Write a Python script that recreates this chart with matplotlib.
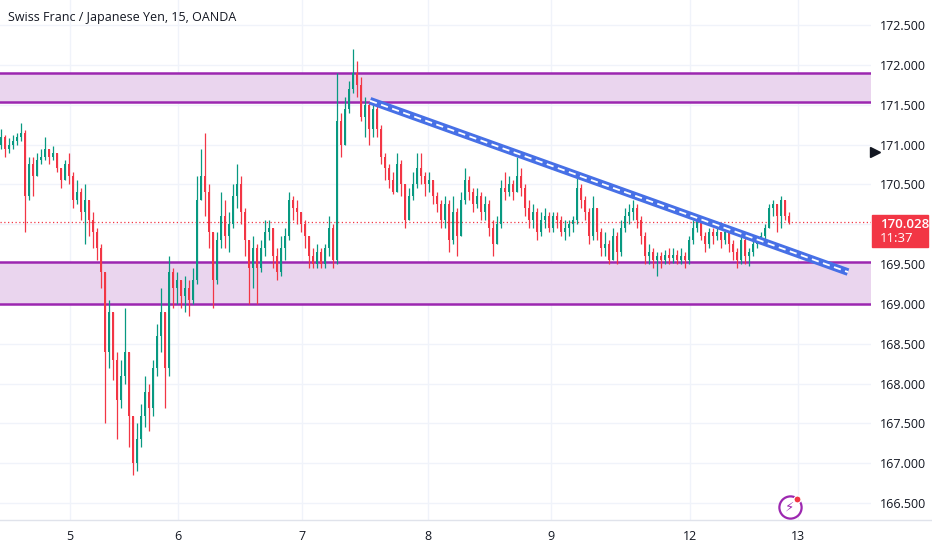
import numpy as np
import matplotlib
matplotlib.use("Agg")
import matplotlib.pyplot as plt
from matplotlib.lines import Line2D

plt.rcParams['font.family'] = ['Open Sans', 'DejaVu Sans']

# ---------------- data ----------------
title = "Swiss Franc / Japanese Yen, 15, OANDA"
first_open = 171.0
closes = [171.1, 170.95, 171.0, 171.05, 171.1, 171.15, 170.35, 170.75, 170.6, 170.8,
          170.85, 170.95, 170.85, 170.9, 170.7, 170.55, 170.75, 170.6, 170.3, 170.4,
          170.15, 170.3, 170.05, 169.9, 169.7, 169.4, 168.4, 168.9, 168.3, 167.8,
          168.1, 168.4, 167.6, 167.0, 167.3, 167.6, 167.9, 167.7, 168.2, 168.6,
          168.9, 168.2, 169.4, 169.2, 169.3, 169.1, 169.2, 169.05, 169.3, 170.3,
          170.6, 170.4, 169.9, 169.3, 169.8, 170.1, 169.85, 170.0, 170.35, 170.5,
          170.15, 169.8, 169.45, 169.7, 169.45, 169.7, 169.9, 169.95, 169.6, 169.4,
          169.7, 169.85, 170.3, 170.2, 170.15, 170.0, 169.85, 169.6, 169.5, 169.65,
          169.5, 169.7, 169.95, 169.55, 171.3, 171.0, 171.45, 171.7, 171.9, 171.75,
          171.35, 171.5, 171.2, 171.45, 171.2, 170.85, 170.7, 170.55, 170.4, 170.75,
          170.5, 170.05, 170.35, 170.5, 170.7, 170.6, 170.5, 170.55, 170.35, 170.25,
          170.05, 170.25, 169.8, 170.15, 169.85, 170.3, 170.55, 170.4, 170.25, 170.35,
          170.15, 170.25, 169.95, 169.75, 170.0, 170.45, 170.4, 170.5, 170.4, 170.6,
          170.45, 170.2, 170.05, 170.15, 169.9, 170.05, 170.1, 169.95, 170.1, 170.05,
          169.9, 169.95, 170.0, 170.05, 170.45, 170.3, 170.15, 169.85, 170.2, 169.9,
          169.7, 169.75, 169.55, 169.85, 169.65, 169.95, 170.1, 170.15, 170.2, 170.05,
          169.85, 169.6, 169.65, 169.55, 169.6, 169.55, 169.62, 169.58, 169.62, 169.55,
          169.6, 169.55, 169.8, 169.95, 170.05, 169.85, 169.75, 169.9, 169.85, 169.9,
          169.8, 169.9, 169.75, 169.65, 169.55, 169.8, 169.6, 169.65, 169.75, 169.8,
          169.85, 169.95, 170.2, 170.25, 170.1, 170.3, 170.1, 170.028]
highs = [171.2, 171.12, 171.08, 171.12, 171.15, 171.27, 171.18, 170.85, 170.85, 170.9,
         170.95, 171.1, 170.95, 170.98, 170.9, 170.7, 170.8, 170.9, 170.65, 170.55,
         170.45, 170.5, 170.3, 170.15, 169.95, 169.75, 169.4, 169.05, 168.9, 168.4,
         168.3, 168.95, 168.3, 167.6, 167.5, 167.75, 168.1, 168.0, 168.3, 168.75,
         169.2, 168.9, 169.6, 169.45, 169.4, 169.3, 169.35, 169.3, 169.45, 170.6,
         170.95, 171.15, 170.5, 169.9, 169.9, 170.4, 170.3, 170.15, 170.5, 170.75,
         170.6, 170.2, 169.8, 169.85, 169.75, 169.8, 170.05, 170.05, 169.95, 169.7,
         169.85, 169.95, 170.4, 170.35, 170.3, 170.15, 170.05, 169.85, 169.7, 169.75,
         169.7, 169.75, 170.1, 170.0, 171.9, 171.4, 171.6, 171.8, 172.2, 172.05,
         171.85, 171.6, 171.55, 171.55, 171.5, 171.25, 170.9, 170.75, 170.65, 170.9,
         170.8, 170.45, 170.45, 170.65, 170.9, 170.9, 170.65, 170.65, 170.55, 170.4,
         170.3, 170.35, 170.3, 170.35, 170.2, 170.4, 170.7, 170.6, 170.45, 170.45,
         170.4, 170.35, 170.3, 170.05, 170.1, 170.55, 170.65, 170.6, 170.55, 170.85,
         170.7, 170.5, 170.3, 170.25, 170.2, 170.15, 170.2, 170.15, 170.15, 170.15,
         170.1, 170.05, 170.05, 170.1, 170.6, 170.5, 170.35, 170.2, 170.35, 170.2,
         169.95, 169.9, 169.8, 169.95, 169.9, 170.05, 170.2, 170.25, 170.3, 170.25,
         170.1, 169.9, 169.75, 169.7, 169.65, 169.65, 169.68, 169.7, 169.7, 169.68,
         169.7, 169.65, 169.85, 170.05, 170.1, 170.08, 169.9, 169.95, 169.95, 169.95,
         169.9, 169.92, 169.9, 169.8, 169.7, 169.9, 169.85, 169.7, 169.8, 169.85,
         169.9, 170.0, 170.25, 170.3, 170.25, 170.35, 170.3, 170.15]
lows = [170.95, 170.85, 170.9, 170.95, 171.0, 171.05, 169.9, 170.3, 170.35, 170.6,
        170.75, 170.8, 170.75, 170.8, 170.65, 170.45, 170.55, 170.5, 170.2, 170.25,
        170.05, 169.75, 169.85, 169.7, 169.55, 169.2, 167.5, 168.2, 168.05, 167.3,
        167.7, 168.0, 167.2, 166.85, 166.9, 167.2, 167.45, 167.4, 167.6, 168.1,
        168.4, 167.7, 168.1, 168.95, 169.0, 168.95, 168.9, 168.85, 169.0, 169.25,
        170.3, 170.1, 169.7, 168.95, 169.25, 169.7, 169.7, 169.65, 169.95, 170.2,
        170.0, 169.6, 169.0, 169.2, 169.0, 169.4, 169.6, 169.8, 169.45, 169.3,
        169.35, 169.55, 169.8, 170.05, 170.0, 169.9, 169.7, 169.45, 169.45, 169.45,
        169.45, 169.45, 169.6, 169.45, 169.5, 170.85, 171.0, 171.4, 171.65, 171.6,
        171.3, 171.1, 171.0, 171.1, 171.1, 170.75, 170.55, 170.45, 170.38, 170.4,
        170.35, 169.95, 170.1, 170.3, 170.45, 170.5, 170.35, 170.4, 170.25, 170.15,
        169.95, 169.95, 169.65, 169.75, 169.6, 169.85, 170.25, 170.3, 170.15, 170.2,
        170.05, 170.05, 169.85, 169.6, 169.75, 169.95, 170.3, 170.35, 170.3, 170.4,
        170.35, 170.1, 169.95, 169.95, 169.8, 169.85, 169.95, 169.9, 169.9, 169.95,
        169.85, 169.8, 169.85, 169.9, 170.0, 170.2, 170.05, 169.75, 169.8, 169.8,
        169.6, 169.6, 169.5, 169.55, 169.5, 169.6, 169.9, 170.0, 170.05, 169.95,
        169.75, 169.5, 169.5, 169.45, 169.35, 169.45, 169.5, 169.5, 169.52, 169.5,
        169.5, 169.45, 169.5, 169.75, 169.9, 169.8, 169.65, 169.7, 169.75, 169.8,
        169.7, 169.75, 169.65, 169.55, 169.45, 169.5, 169.5, 169.48, 169.6, 169.7,
        169.75, 169.8, 169.95, 170.1, 169.9, 169.95, 170.05, 170.0]

zone_top = [171.54, 171.90]
zone_bottom = [169.00, 169.53]
trend_idx = [92.25, 211.75]
trend_price = [171.55, 169.40]
price_ticks = [166.5, 167.0, 167.5, 168.0, 168.5, 169.0, 169.5, 170.0, 170.5,
               171.0, 171.5, 172.0, 172.5]
day_labels = ["5", "6", "7", "8", "9", "12", "13"]
day_idx = [17.25, 44.25, 75.25, 106.75, 137.5, 172.25, 199.25]
last_price_label = "170.028"
countdown_label = "11:37"

# ---------------- figure ----------------
W, H = 932, 550
fig = plt.figure(figsize=(W / 100, H / 100), dpi=100)
fig.patch.set_facecolor("white")
ax = fig.add_axes([0, 30 / H, 871 / W, 520 / H])
ax.set_facecolor("white")

n = len(closes)
idx = np.arange(n)
c = np.array(closes)
o = np.concatenate([[first_open], c[:-1]])
hi = np.maximum(np.array(highs), np.maximum(o, c))
lo = np.minimum(np.array(lows), np.minimum(o, c))
up = c >= o
GREEN, RED = "#089981", "#f23645"
cols = np.where(up, GREEN, RED)

# grid
for p in price_ticks:
    ax.axhline(p, color="#f0f3fa", lw=1, zorder=0)
for d in day_idx:
    ax.axvline(d, color="#f0f3fa", lw=1, zorder=0)

# zones
PURPLE = "#9c27b0"
for z in (zone_top, zone_bottom):
    ax.axhspan(z[0], z[1], color="#ead5ee", lw=0, zorder=1)
    for v in z:
        ax.axhline(v, color=PURPLE, lw=1.8, zorder=2)

# candles
ax.vlines(idx, lo, hi, colors=cols, lw=0.9, zorder=3)
body = c - o
body = np.where(np.abs(body) < 0.01, np.sign(body + 1e-9) * 0.01, body)
ax.bar(idx, body, bottom=o, width=0.68, color=cols, lw=0, zorder=4)

# last price dotted line
ax.axhline(closes[-1], color=RED, lw=0.9, ls=(0, (1, 2)), zorder=2.5)

# trend line
ax.plot(trend_idx, trend_price, color="#4770e6", lw=5.5, solid_capstyle="butt", zorder=5)
ax.plot(trend_idx, trend_price, color="white", lw=1.3, ls=(0, (4, 2.5)), zorder=6)

ax.set_xlim(-0.25, 217.5)
ax.set_ylim(172.5 - 495 / 79.7, 172.5 + 25 / 79.7)

for s in ax.spines.values():
    s.set_visible(False)

ax.yaxis.tick_right()
ax.set_yticks(price_ticks)
# the 170.000 label sits under the last-price box, so it is left blank
ax.set_yticklabels(["" if abs(p - 170.0) < 1e-9 else f"{p:.3f}" for p in price_ticks])
ax.tick_params(axis="y", length=0, pad=6.5, labelsize=9, labelcolor="#131722")
ax.set_xticks(day_idx)
ax.set_xticklabels(day_labels)
ax.tick_params(axis="x", length=0, pad=7, labelsize=9, labelcolor="#131722")

# bottom axis line across the whole width
fig.add_artist(Line2D([0, 1], [1 - 520 / H, 1 - 520 / H], transform=fig.transFigure,
                      color="#e0e3eb", lw=1))

# title
fig.text(8 / W, 1 - 18 / H, title, fontsize=9, color="#131722", va="center", ha="left")

# last price label box
fig.patches.append(plt.Rectangle((872 / W, 1 - 247 / H), 56 / W, 32 / H,
                                 transform=fig.transFigure, color=RED, zorder=10))
fig.text(880 / W, 1 - 224 / H, last_price_label, fontsize=9.5, color="white",
         va="center", ha="left", zorder=11, fontweight="semibold")
fig.text(880 / W, 1 - 239 / H, countdown_label, fontsize=9.5, color="white",
         va="center", ha="left", zorder=11)

# small black triangle marker on the price scale
fig.add_artist(Line2D([875 / W], [1 - 152 / H], transform=fig.transFigure, marker=">",
                      markersize=6.5, color="#131722", lw=0))

# lightning icon
fig.add_artist(Line2D([790 / W], [1 - 507 / H], transform=fig.transFigure, marker="o",
                      markersize=16, mfc="white", mec=PURPLE, mew=1.6, lw=0, zorder=12))
fig.text(790 / W, 1 - 507 / H, "\u26A1", fontsize=9.5, color=PURPLE, ha="center",
         va="center", family=["DejaVu Sans"], zorder=13)
fig.add_artist(Line2D([797 / W], [1 - 499 / H], transform=fig.transFigure, marker="o",
                      markersize=5, mfc=RED, mec="white", mew=0.8, lw=0, zorder=14))

fig.savefig("out.png", dpi=100, facecolor="white")
